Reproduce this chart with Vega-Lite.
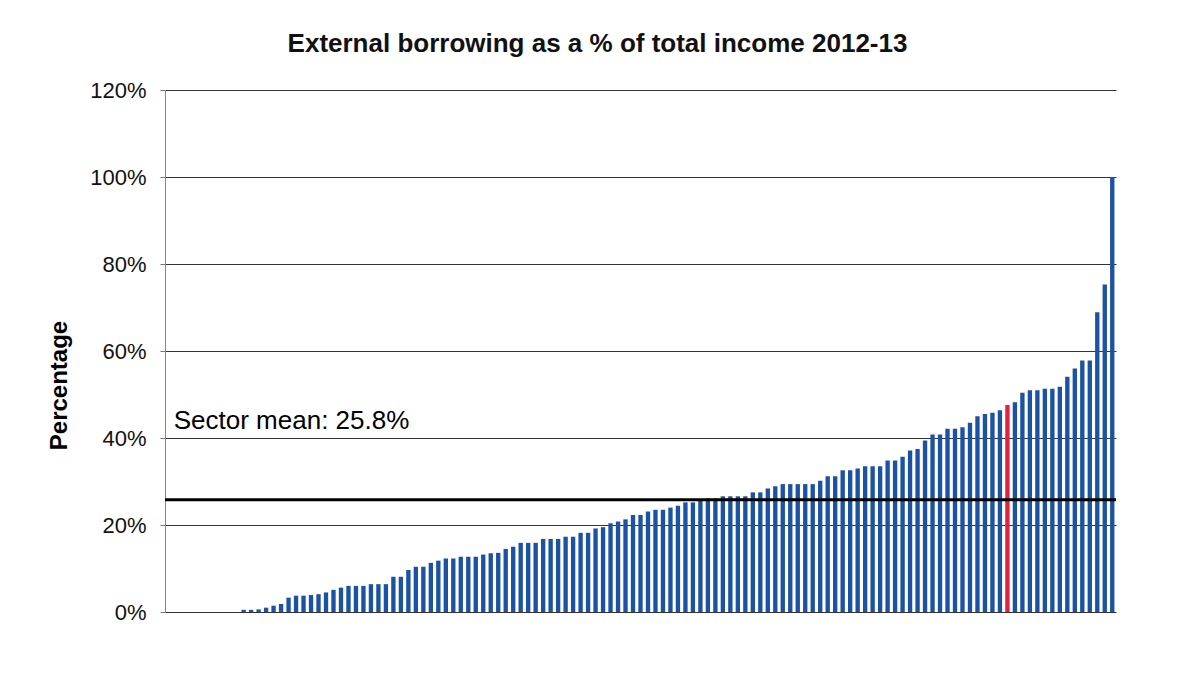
{
  "$schema": "https://vega.github.io/schema/vega-lite/v6.json",
  "width": 951,
  "height": 522,
  "autosize": {"type": "none"},
  "padding": {"left": 165, "top": 90, "right": 63, "bottom": 66},
  "background": "white",
  "config": {"view": {"stroke": null}, "font": "Liberation Sans"},
  "title": {"text": "External borrowing as a % of total income 2012-13", "fontSize": 26, "fontWeight": "bold", "font": "Liberation Sans", "color": "#111", "anchor": "middle", "dx": -43, "offset": 22},
  "datasets": {
    "bars": [
      {"id": 1, "value": 0, "group": "other"},
      {"id": 2, "value": 0, "group": "other"},
      {"id": 3, "value": 0, "group": "other"},
      {"id": 4, "value": 0, "group": "other"},
      {"id": 5, "value": 0, "group": "other"},
      {"id": 6, "value": 0, "group": "other"},
      {"id": 7, "value": 0, "group": "other"},
      {"id": 8, "value": 0, "group": "other"},
      {"id": 9, "value": 0, "group": "other"},
      {"id": 10, "value": 0, "group": "other"},
      {"id": 11, "value": 0.005, "group": "other"},
      {"id": 12, "value": 0.005, "group": "other"},
      {"id": 13, "value": 0.006, "group": "other"},
      {"id": 14, "value": 0.010, "group": "other"},
      {"id": 15, "value": 0.0145, "group": "other"},
      {"id": 16, "value": 0.0185, "group": "other"},
      {"id": 17, "value": 0.033, "group": "other"},
      {"id": 18, "value": 0.0375, "group": "other"},
      {"id": 19, "value": 0.0375, "group": "other"},
      {"id": 20, "value": 0.039, "group": "other"},
      {"id": 21, "value": 0.041, "group": "other"},
      {"id": 22, "value": 0.045, "group": "other"},
      {"id": 23, "value": 0.051, "group": "other"},
      {"id": 24, "value": 0.056, "group": "other"},
      {"id": 25, "value": 0.060, "group": "other"},
      {"id": 26, "value": 0.060, "group": "other"},
      {"id": 27, "value": 0.060, "group": "other"},
      {"id": 28, "value": 0.064, "group": "other"},
      {"id": 29, "value": 0.064, "group": "other"},
      {"id": 30, "value": 0.064, "group": "other"},
      {"id": 31, "value": 0.081, "group": "other"},
      {"id": 32, "value": 0.081, "group": "other"},
      {"id": 33, "value": 0.0965, "group": "other"},
      {"id": 34, "value": 0.104, "group": "other"},
      {"id": 35, "value": 0.104, "group": "other"},
      {"id": 36, "value": 0.113, "group": "other"},
      {"id": 37, "value": 0.118, "group": "other"},
      {"id": 38, "value": 0.123, "group": "other"},
      {"id": 39, "value": 0.123, "group": "other"},
      {"id": 40, "value": 0.127, "group": "other"},
      {"id": 41, "value": 0.127, "group": "other"},
      {"id": 42, "value": 0.127, "group": "other"},
      {"id": 43, "value": 0.132, "group": "other"},
      {"id": 44, "value": 0.135, "group": "other"},
      {"id": 45, "value": 0.136, "group": "other"},
      {"id": 46, "value": 0.145, "group": "other"},
      {"id": 47, "value": 0.150, "group": "other"},
      {"id": 48, "value": 0.159, "group": "other"},
      {"id": 49, "value": 0.159, "group": "other"},
      {"id": 50, "value": 0.159, "group": "other"},
      {"id": 51, "value": 0.168, "group": "other"},
      {"id": 52, "value": 0.168, "group": "other"},
      {"id": 53, "value": 0.168, "group": "other"},
      {"id": 54, "value": 0.173, "group": "other"},
      {"id": 55, "value": 0.173, "group": "other"},
      {"id": 56, "value": 0.182, "group": "other"},
      {"id": 57, "value": 0.182, "group": "other"},
      {"id": 58, "value": 0.192, "group": "other"},
      {"id": 59, "value": 0.195, "group": "other"},
      {"id": 60, "value": 0.204, "group": "other"},
      {"id": 61, "value": 0.208, "group": "other"},
      {"id": 62, "value": 0.213, "group": "other"},
      {"id": 63, "value": 0.223, "group": "other"},
      {"id": 64, "value": 0.223, "group": "other"},
      {"id": 65, "value": 0.231, "group": "other"},
      {"id": 66, "value": 0.235, "group": "other"},
      {"id": 67, "value": 0.235, "group": "other"},
      {"id": 68, "value": 0.240, "group": "other"},
      {"id": 69, "value": 0.244, "group": "other"},
      {"id": 70, "value": 0.252, "group": "other"},
      {"id": 71, "value": 0.252, "group": "other"},
      {"id": 72, "value": 0.256, "group": "other"},
      {"id": 73, "value": 0.261, "group": "other"},
      {"id": 74, "value": 0.261, "group": "other"},
      {"id": 75, "value": 0.266, "group": "other"},
      {"id": 76, "value": 0.266, "group": "other"},
      {"id": 77, "value": 0.266, "group": "other"},
      {"id": 78, "value": 0.266, "group": "other"},
      {"id": 79, "value": 0.275, "group": "other"},
      {"id": 80, "value": 0.275, "group": "other"},
      {"id": 81, "value": 0.284, "group": "other"},
      {"id": 82, "value": 0.289, "group": "other"},
      {"id": 83, "value": 0.294, "group": "other"},
      {"id": 84, "value": 0.294, "group": "other"},
      {"id": 85, "value": 0.294, "group": "other"},
      {"id": 86, "value": 0.294, "group": "other"},
      {"id": 87, "value": 0.294, "group": "other"},
      {"id": 88, "value": 0.302, "group": "other"},
      {"id": 89, "value": 0.312, "group": "other"},
      {"id": 90, "value": 0.312, "group": "other"},
      {"id": 91, "value": 0.326, "group": "other"},
      {"id": 92, "value": 0.326, "group": "other"},
      {"id": 93, "value": 0.330, "group": "other"},
      {"id": 94, "value": 0.335, "group": "other"},
      {"id": 95, "value": 0.335, "group": "other"},
      {"id": 96, "value": 0.335, "group": "other"},
      {"id": 97, "value": 0.348, "group": "other"},
      {"id": 98, "value": 0.348, "group": "other"},
      {"id": 99, "value": 0.357, "group": "other"},
      {"id": 100, "value": 0.371, "group": "other"},
      {"id": 101, "value": 0.375, "group": "other"},
      {"id": 102, "value": 0.394, "group": "other"},
      {"id": 103, "value": 0.408, "group": "other"},
      {"id": 104, "value": 0.408, "group": "other"},
      {"id": 105, "value": 0.421, "group": "other"},
      {"id": 106, "value": 0.421, "group": "other"},
      {"id": 107, "value": 0.425, "group": "other"},
      {"id": 108, "value": 0.435, "group": "other"},
      {"id": 109, "value": 0.450, "group": "other"},
      {"id": 110, "value": 0.455, "group": "other"},
      {"id": 111, "value": 0.458, "group": "other"},
      {"id": 112, "value": 0.464, "group": "other"},
      {"id": 113, "value": 0.476, "group": "highlight"},
      {"id": 114, "value": 0.482, "group": "other"},
      {"id": 115, "value": 0.504, "group": "other"},
      {"id": 116, "value": 0.510, "group": "other"},
      {"id": 117, "value": 0.510, "group": "other"},
      {"id": 118, "value": 0.513, "group": "other"},
      {"id": 119, "value": 0.513, "group": "other"},
      {"id": 120, "value": 0.518, "group": "other"},
      {"id": 121, "value": 0.541, "group": "other"},
      {"id": 122, "value": 0.560, "group": "other"},
      {"id": 123, "value": 0.578, "group": "other"},
      {"id": 124, "value": 0.578, "group": "other"},
      {"id": 125, "value": 0.689, "group": "other"},
      {"id": 126, "value": 0.753, "group": "other"},
      {"id": 127, "value": 1.0, "group": "other"}
    ],
    "mean": [{"label": "Sector mean:  25.8%", "value": 0.258}]
  },
  "layer": [
    {
      "data": {"name": "bars"},
      "mark": {"type": "bar"},
      "encoding": {
        "x": {"field": "id", "type": "ordinal", "scale": {"paddingInner": 0.42, "paddingOuter": 0.21}, "axis": null},
        "y": {
          "field": "value", "type": "quantitative",
          "scale": {"domain": [0, 1.2], "nice": false},
          "axis": {
            "values": [0, 0.2, 0.4, 0.6, 0.8, 1, 1.2],
            "format": ".0%",
            "labelFontSize": 22,
            "labelFont": "Liberation Sans",
            "labelColor": "#111",
            "labelPadding": 14,
            "tickSize": 5,
            "tickColor": "#777",
            "domainColor": "#888",
            "grid": true,
            "gridColor": "#333",
            "gridWidth": 1,
            "title": "Percentage",
            "titleFont": "Liberation Sans",
            "titleFontSize": 24,
            "titleFontWeight": "bold",
            "titleColor": "#000",
            "titlePadding": 18,
            "titleY": 295
          }
        },
        "color": {"field": "group", "type": "nominal", "scale": {"domain": ["other", "highlight"], "range": ["#1c52a3", "#e0213f"]}, "legend": null}
      }
    },
    {
      "data": {"name": "mean"},
      "mark": {"type": "rule", "color": "#000", "strokeWidth": 3},
      "encoding": {"y": {"field": "value", "type": "quantitative"}}
    },
    {
      "data": {"name": "mean"},
      "mark": {"type": "text", "align": "left", "baseline": "alphabetic", "fontSize": 26, "font": "Liberation Sans", "color": "#000", "dx": 5},
      "encoding": {
        "x": {"datum": 1, "type": "ordinal"},
        "y": {"datum": 0.42, "type": "quantitative"},
        "text": {"field": "label"}
      }
    }
  ]
}
